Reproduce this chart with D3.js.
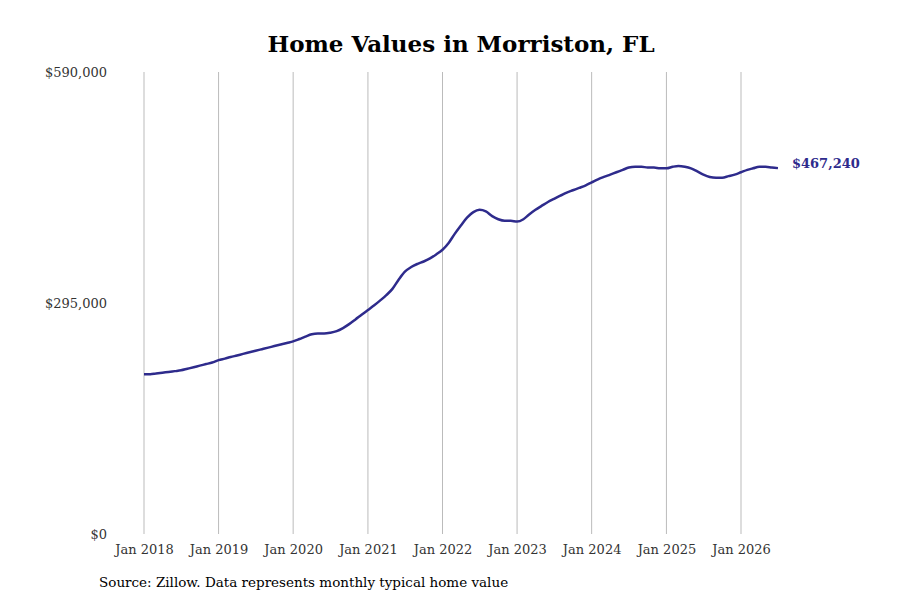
<!DOCTYPE html>
<html><head><meta charset="utf-8">
<script src="https://cdn.jsdelivr.net/npm/d3@7"></script>
<style>body{margin:0;background:#fff}</style>
</head><body><svg id="c" width="900" height="600"></svg>
<script>
const startYear = 2018;
const values = [
204,204,205,206,207,208,209,211,213,215,217,219,
222,224,226,228,230,232,234,236,238,240,242,244,
246,249,252,255,256,256,257,259,263,268,274,280,
286,292,298,305,313,325,335,341,345,348,352,357,
363,372,383,394,404,411,414,412,406,402,400,400,
399,402,408,414,419,424,428,432,436,439,442,445,
449,453,456,459,462,465,468,469,469,468,468,467,
467,469,470,469,467,463,459,456,455,455,457,459,
462,465,467,469,469,468,467.24].map(v=>v*1000);
const yTicks = [0,295000,590000];
const tickYears = [2018,2019,2020,2021,2022,2023,2024,2025,2026];
const data = values.map((v,i)=>({d:new Date(startYear, i, 1), v}));
const svg = d3.select("#c");
const font = "'DejaVu Serif',serif";
const x = d3.scaleTime().domain([new Date(2018,0,1), new Date(2026,0,1)]).range([144,741]);
const y = d3.scaleLinear().domain([0,590000]).range([534,72]);
svg.append("text").attr("x",461).attr("y",52).attr("text-anchor","middle")
  .style("font-family",font).style("font-weight","bold").style("font-size","23px").text("Home Values in Morriston, FL");
const xa = svg.append("g").attr("transform","translate(0,534)")
  .call(d3.axisBottom(x).tickValues(tickYears.map(t=>new Date(t,0,1))).tickFormat(d=>"Jan "+d.getFullYear()).tickSize(0).tickPadding(11));
xa.select(".domain").remove();
xa.selectAll("text").style("font-family",font).style("font-size","13px").attr("fill","#333");
svg.append("g").selectAll("line").data(tickYears).join("line")
  .attr("x1",d=>x(new Date(d,0,1))).attr("x2",d=>x(new Date(d,0,1))).attr("y1",72).attr("y2",534)
  .attr("stroke","#bbb").attr("stroke-width",1);
const ya = svg.append("g").attr("transform","translate(107,0)")
  .call(d3.axisLeft(y).tickValues(yTicks).tickFormat(d=>"$"+d3.format(",")(d)).tickSize(0).tickPadding(0));
ya.select(".domain").remove();
ya.selectAll("text").style("font-family",font).style("font-size","13px").attr("fill","#333");
svg.append("path").datum(data).attr("fill","none").attr("stroke","#2e2b8c").attr("stroke-width",2.5)
  .attr("d",d3.line().x(d=>x(d.d)).y(d=>y(d.v)).curve(d3.curveMonotoneX));
const last = data[data.length-1];
svg.append("text").attr("x",x(last.d)+14).attr("y",y(last.v)-5).attr("dy","0.35em")
  .style("font-family",font).style("font-weight","bold").style("font-size","13px").attr("fill","#2e2b8c")
  .text("$"+d3.format(",")(Math.round(last.v)));
svg.append("text").attr("x",99).attr("y",587).style("font-family",font).style("font-size","13.5px")
  .text("Source: Zillow. Data represents monthly typical home value");
</script></body></html>
